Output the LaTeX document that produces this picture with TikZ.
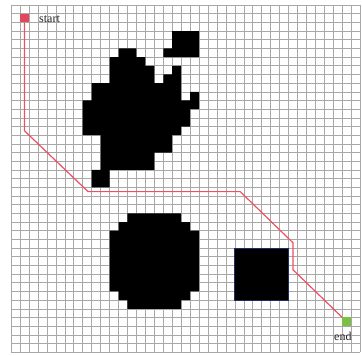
\documentclass[tikz,border=0pt]{standalone}
\usepackage{fontspec}
\setmainfont{Liberation Serif}
\definecolor{gridgray}{RGB}{168,168,168}
\definecolor{startred}{RGB}{226,72,92}
\definecolor{pathred}{RGB}{238,80,96}
\definecolor{goalgreen}{RGB}{122,192,66}
\definecolor{navy}{RGB}{30,45,100}
\tikzset{
  gridline/.style={draw=gridgray, line width=0.6pt},
  obst/.style={fill=black},
  boxobst/.style={fill=black, draw=navy, line width=0.8pt},
  pathline/.style={draw=pathred, line width=1.2pt, line join=miter},
  cellmark/.style={rectangle, inner sep=0pt, minimum width=8.95pt, minimum height=8.68pt},
  lbl/.style={font=\fontsize{12}{14}\selectfont, inner sep=0pt, text=black!85}
}
\begin{document}
\begin{tikzpicture}[x=1pt,y=1pt]
\useasboundingbox (0,0) rectangle (362,-356);
\fill[white] (0,0) rectangle (362,-356);
\begin{scope}[shift={(11.1pt,-5pt)}, x=8.95pt, y=-8.68pt]
  % grid
  \foreach \i in {0,...,39} \draw[gridline] (\i,0) -- (\i,40);
  \foreach \j in {0,...,40} \draw[gridline] (0,\j) -- (39,\j);
  % small obstacle
  \fill[obst] (18,3) -- (21,3) -- (21,6) -- (17,6) -- (17,5) -- (18,5) -- cycle;
  % main blob
  \fill[obst] (12,5) -- (14,5) -- (14,6) -- (15,6) -- (15,7) -- (16,7) -- (16,9)
    -- (17,9) -- (17,8) -- (18,8) -- (18,7) -- (19,7) -- (19,11) -- (20,11)
    -- (20,10) -- (21,10) -- (21,12) -- (20,12) -- (20,14) -- (19,14) -- (19,15)
    -- (18,15) -- (18,17) -- (16,17) -- (16,19) -- (11,19) -- (11,21) -- (9,21)
    -- (9,19) -- (10,19) -- (10,15) -- (8,15) -- (8,11) -- (9,11) -- (9,9)
    -- (11,9) -- (11,6) -- (12,6) -- cycle;
  % round obstacle
  \fill[obst] (13,24) -- (19,24) -- (19,25) -- (20,25) -- (20,26) -- (21,26)
    -- (21,33) -- (20,33) -- (20,34) -- (19,34) -- (19,35) -- (13,35) -- (13,34)
    -- (12,34) -- (12,33) -- (11,33) -- (11,26) -- (12,26) -- (12,25) -- (13,25) -- cycle;
  % square obstacle
  \draw[boxobst] (25,28) rectangle (31,34);
  % start and goal cells
  \node[cellmark, fill=startred] (start) at (1.5,1.5) {};
  \node[cellmark, fill=goalgreen] (goal) at (37.5,36.5) {};
  % path waypoints
  \coordinate (w1) at (1.5,14.5);
  \coordinate (w2) at (8.6,21.5);
  \coordinate (w3) at (25.6,21.5);
  \coordinate (w4) at (31.5,27.4);
  \coordinate (w5) at (31.5,30.5);
  \draw[pathline] (start.south) -- (w1) -- (w2) -- (w3) -- (w4) -- (w5) -- (goal.north west);
\end{scope}
\node[lbl, anchor=base west] (startlabel) at (39,-22.5) {start};
\node[lbl, anchor=base west] (endlabel) at (334,-340.5) {end};
\end{tikzpicture}
\end{document}
